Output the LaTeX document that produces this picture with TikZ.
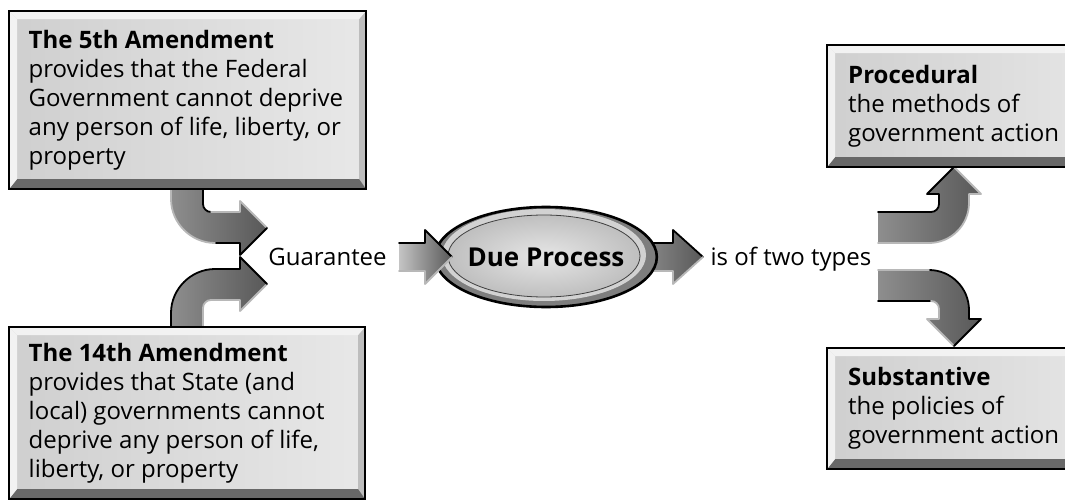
\documentclass[tikz,border=0pt]{standalone}
\usepackage{fontspec}
\setmainfont{Open Sans}
\usetikzlibrary{calc,shapes.geometric}
\definecolor{boxL}{HTML}{CFCFCF}
\definecolor{boxR}{HTML}{E8E8E8}
\definecolor{boxlight}{HTML}{F2F2F2}
\definecolor{boxdark}{HTML}{686868}
\definecolor{boxside}{HTML}{BDBDBD}
\definecolor{arrdark}{HTML}{585858}
\definecolor{arrmid}{HTML}{8E8E8E}
\definecolor{arrlight}{HTML}{C4C4C4}
\definecolor{edgelight}{HTML}{B8B8B8}
\definecolor{ellband}{HTML}{7E7E7E}
\definecolor{ellin}{HTML}{E6E6E6}
\definecolor{ellout}{HTML}{BFBFBF}
\tikzset{
  bevelbox/.style={draw=black, line width=2.4pt, anchor=north west, inner sep=0pt,
    path picture={
      \coordinate (pnw) at (path picture bounding box.north west);
      \coordinate (pne) at (path picture bounding box.north east);
      \coordinate (psw) at (path picture bounding box.south west);
      \coordinate (pse) at (path picture bounding box.south east);
      \shade[left color=boxL, right color=boxR] (pnw) rectangle (pse);
      \fill[boxlight] (pnw) -- (pne) -- ([shift={(-7,8)}]pne) -- ([shift={(8,8)}]pnw) -- cycle;
      \fill[boxlight] (pnw) -- ([shift={(8,8)}]pnw) -- ([shift={(8,-10)}]psw) -- (psw) -- cycle;
      \fill[boxside] (pne) -- (pse) -- ([shift={(-7,-10)}]pse) -- ([shift={(-7,8)}]pne) -- cycle;
      \fill[boxdark] (psw) -- ([shift={(8,-10)}]psw) -- ([shift={(-7,-10)}]pse) -- (pse) -- cycle;
    }},
  boxtext/.style={anchor=west, inner sep=0pt, align=left, font=\fontsize{24}{29}\selectfont},
  plaintext/.style={inner sep=0pt, anchor=base, font=\fontsize{24}{29}\selectfont},
  darkedge/.style={draw=black, line width=1.8pt, line join=round, line cap=round},
  lightedge/.style={draw=edgelight, line width=1.8pt, line join=round, line cap=round},
  tailshade/.style={left color=arrlight, right color=arrdark},
  midshade/.style={left color=arrmid, right color=arrdark},
}
\begin{document}
\begin{tikzpicture}[x=1pt,y=-1pt]
\useasboundingbox (0,0) rectangle (1065,500);
\clip (0,0) rectangle (1065,500);

% curved arrows, left
\shade[midshade] (171,185) -- (203,185) -- (203,204) .. controls (203,208.4) and (206.6,212) .. (211,212) -- (240,212) -- (240,201) -- (267,228) -- (240,255) -- (240,243) -- (215,243) .. controls (191,243) and (171,223) .. (171,199) -- cycle;
\draw[darkedge] (203,188) -- (203,204) .. controls (203,208.4) and (206.6,212) .. (211,212);
\draw[lightedge] (211,212) -- (240,212) -- (240,201) -- (267,228);
\draw[darkedge] (267,228) -- (240,255) -- (240,243) -- (215,243);
\draw[lightedge] (215,243) .. controls (191,243) and (171,223) .. (171,199) -- (171,188);

\shade[midshade] (171,329) -- (203,329) -- (203,308) .. controls (203,303.6) and (206.6,300) .. (211,300) -- (240,300) -- (240,311) -- (267,284) -- (240,257) -- (240,269) -- (215,269) .. controls (191,269) and (171,289) .. (171,313) -- cycle;
\draw[lightedge] (203,326) -- (203,308) .. controls (203,303.6) and (206.6,300) .. (211,300) -- (240,300) -- (240,311) -- (267,284);
\draw[darkedge] (267,284) -- (240,257) -- (240,269) -- (215,269) .. controls (191,269) and (171,289) .. (171,313) -- (171,326);

% curved arrows, right
\shade[midshade] (878,212) -- (931,212) .. controls (935.4,212) and (939,208.4) .. (939,204) -- (939,194) -- (927,194) -- (954,167) -- (981,194) -- (969,194) -- (969,203) .. controls (969,225) and (951,243) .. (929,243) -- (878,243) -- cycle;
\draw[darkedge] (878,212) -- (931,212) .. controls (935.4,212) and (939,208.4) .. (939,204) -- (939,194) -- (927,194) -- (954,167);
\draw[lightedge] (954,167) -- (981,194) -- (969,194) -- (969,203) .. controls (969,225) and (951,243) .. (929,243) -- (878,243);

\shade[midshade] (878,301) -- (931,301) .. controls (935.4,301) and (939,304.6) .. (939,309) -- (939,319) -- (927,319) -- (954,346) -- (981,319) -- (969,319) -- (969,310) .. controls (969,288) and (951,270) .. (929,270) -- (878,270) -- cycle;
\draw[darkedge] (878,301) -- (931,301);
\draw[lightedge] (931,301) .. controls (935.4,301) and (939,304.6) .. (939,309) -- (939,319) -- (927,319) -- (954,346);
\draw[darkedge] (954,346) -- (981,319) -- (969,319) -- (969,310) .. controls (969,288) and (951,270) .. (929,270);
\draw[lightedge] (929,270) -- (878,270);

% straight arrow out of the ellipse
\shade[midshade] (640,243) -- (673,243) -- (673,230) -- (703,257) -- (673,284) -- (673,271) -- (640,271) -- cycle;
\draw[darkedge] (640,243) -- (673,243) -- (673,230) -- (703,257);
\draw[lightedge] (703,257) -- (673,284) -- (673,271) -- (640,271);

% boxes
\node[bevelbox, minimum width=357pt, minimum height=178pt] (b5) at (8,10) {};
\node[bevelbox, minimum width=356pt, minimum height=172pt] (b14) at (8,326) {};
\node[bevelbox, minimum width=300pt, minimum height=122pt] (bp) at (826,44) {};
\node[bevelbox, minimum width=300pt, minimum height=121pt] (bs) at (826,347) {};

\node[boxtext] (t5) at ($(b5.west)+(20.5,0)$) {\textbf{The 5th Amendment}\\provides that the Federal\\Government cannot deprive\\any person of life, liberty, or\\property};
\node[boxtext] (t14) at ($(b14.west)+(20.5,0)$) {\textbf{The 14th Amendment}\\provides that State (and\\local) governments cannot\\deprive any person of life,\\liberty, or property};
\node[boxtext] (tp) at ($(bp.west)+(22,0)$) {\textbf{Procedural}\\the methods of\\government action};
\node[boxtext] (ts) at ($(bs.west)+(22,0)$) {\textbf{Substantive}\\the policies of\\government action};

% ellipse
\node[ellipse, draw=black, line width=2.6pt, fill=ellband, minimum width=212pt, minimum height=100pt, inner sep=0pt,
  font=\fontsize{26}{30}\selectfont\bfseries,
  path picture={
    \fill[ellband] (path picture bounding box.north west) rectangle (path picture bounding box.south east);
    \fill[ellout!70!white] ([shift={(-2,-2)}]path picture bounding box.center) ellipse [x radius=102, y radius=46];
    \shade[inner color=ellin, outer color=ellout, draw=black!75, line width=0.8pt] ([shift={(-2,-1)}]path picture bounding box.center) ellipse [x radius=96, y radius=41];
  }] (dp) at (546,257) {Due Process};

% straight arrow into the ellipse
\shade[tailshade] (399,243) -- (425,243) -- (425,230) -- (452,257) -- (425,284) -- (425,271) -- (399,271) -- cycle;
\draw[darkedge] (399,243) -- (425,243) -- (425,230) -- (452,257);
\draw[lightedge] (452,257) -- (425,284) -- (425,271) -- (399,271);

% labels
\node[plaintext] (g) at (327.5,265.5) {Guarantee};
\node[plaintext] (two) at (791,265.5) {is of two types};
\end{tikzpicture}
\end{document}
